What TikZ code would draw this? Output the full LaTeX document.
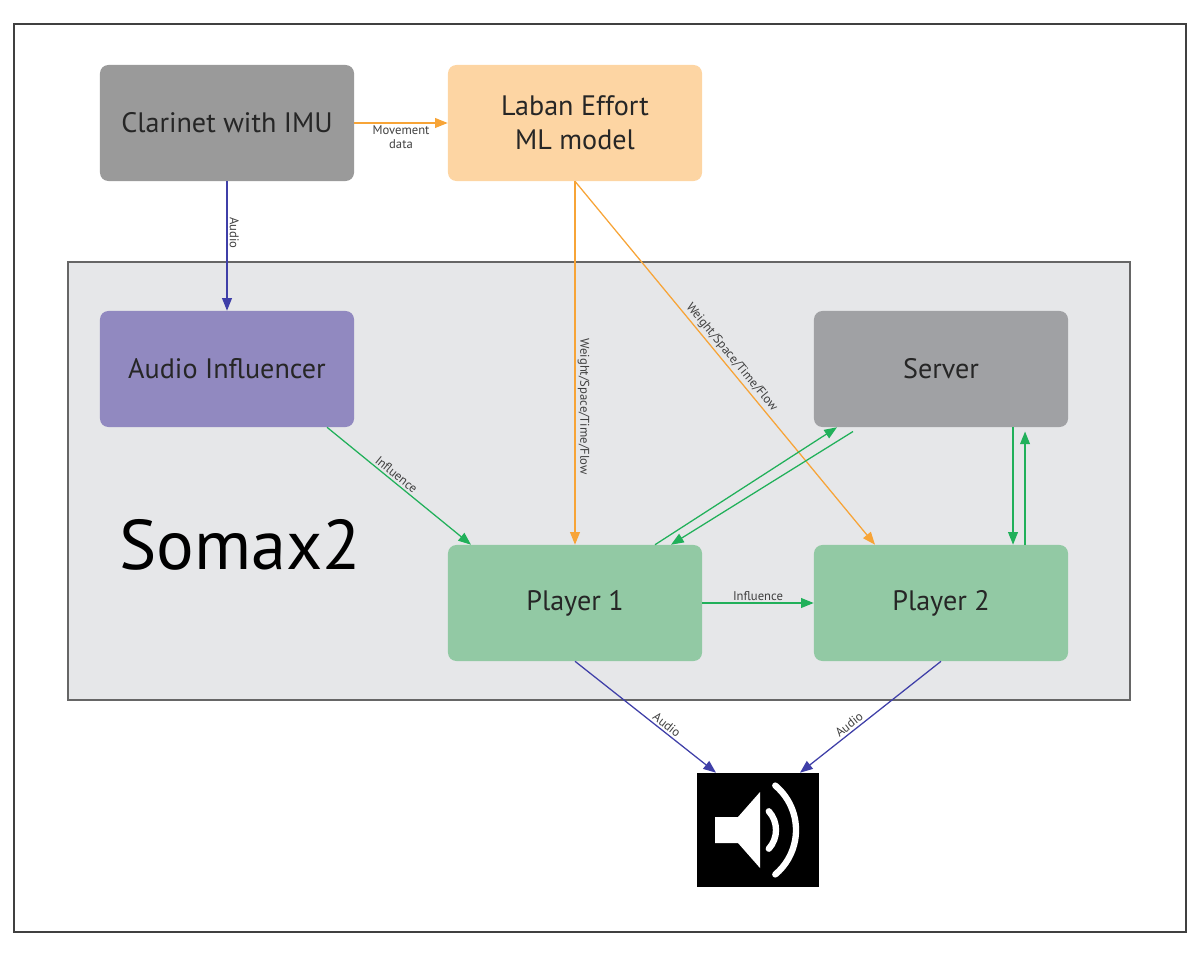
\documentclass[tikz,border=0pt]{standalone}
\usepackage{fontspec}
\setmainfont{PT Sans}
\usetikzlibrary{arrows.meta}
\definecolor{boxgray}{HTML}{9A9A9A}
\definecolor{servgray}{HTML}{A0A1A4}
\definecolor{labanor}{HTML}{FDD5A3}
\definecolor{inflpurp}{HTML}{9189C0}
\definecolor{playgreen}{HTML}{92C9A4}
\definecolor{somaxbg}{HTML}{E6E7E9}
\definecolor{arrorange}{HTML}{F7A437}
\definecolor{arrblue}{HTML}{3F3FA8}
\definecolor{arrgreen}{HTML}{21B05A}
\tikzset{
  block/.style={rounded corners=6pt, minimum width=6.35cm, minimum height=2.9cm,
    align=center, font=\fontsize{20}{24}\selectfont, text=black!85},
  link/.style={-{Triangle[length=9pt,width=7pt]}, line width=0.9pt},
  tag/.style={font=\fontsize{9}{10}\selectfont, text=black!75, inner sep=1.5pt}
}
\begin{document}
\begin{tikzpicture}[x=0.025cm,y=-0.025cm]
		\useasboundingbox (0,0) rectangle (1200,958);
		\draw[line width=1.3pt, black!75] (14,24) rectangle (1186,932);
		\draw[line width=1.3pt, black!60, fill=somaxbg] (68,262) rectangle (1130,700);
		
		\node[block, fill=boxgray] at (227,123) (clar) {Clarinet with IMU};
		\node[block, fill=labanor] at (575,123) (laban) {Laban Effort\\ML model};
		\node[block, fill=inflpurp] at (227,369) (infl) {Audio Influencer};
		\node[block, fill=servgray] at (941,369) (serv) {Server};
		\node[block, fill=playgreen] at (575,603) (p1) {Player 1};
		\node[block, fill=playgreen] at (941,603) (p2) {Player 2};
		\node[fill=black, minimum width=3.07cm, minimum height=2.85cm] at (758,830) (spk) {};
		\node[font=\fontsize{50}{56}\selectfont] at (240,545) (somax) {Somax2};
		
		% speaker icon
		\begin{scope}[shift={(spk.center)}, x=0.025cm, y=0.025cm]
		  \fill[white] (-43,-13) -- (-20,-13) -- (2,-38) -- (2,38) -- (-20,13) -- (-43,13) -- cycle;
		  \draw[white, line width=4.5pt, line cap=round] (-10,0) ++(42:28) arc[start angle=42, end angle=-42, radius=28];
		  \draw[white, line width=4.5pt, line cap=round] (-20,0) ++(50:58) arc[start angle=50, end angle=-50, radius=58];
		\end{scope}
		
		\draw[link, arrorange] (clar) -- (laban)
		  node[midway, below, tag, align=center] {Movement\\data};
		\draw[link, arrblue] (clar) -- (infl)
		  node[pos=0.4, sloped, above, tag] {Audio};
		\draw[link, arrorange] (laban.south) -- (p1.north)
		  node[pos=0.62, sloped, above, tag] {Weight/Space/Time/Flow};
		\draw[link, arrorange] (laban.south) -- ([xshift=-1.65cm]p2.north)
		  node[pos=0.5, sloped, above, tag] {Weight/Space/Time/Flow};
		\draw[link, arrgreen] ([xshift=2.5cm]infl.south) -- ([xshift=-2.6cm]p1.north)
		  node[pos=0.45, sloped, above, tag] {Influence};
		\draw[link, arrgreen] ([xshift=2cm]p1.north) -- ([xshift=-2.6cm]serv.south);
		\draw[link, arrgreen] ([xshift=-2.2cm,yshift=-3pt]serv.south) -- ([xshift=2.4cm]p1.north);
		\draw[link, arrgreen] ([xshift=1.8cm]serv.south) -- ([xshift=1.8cm]p2.north);
		\draw[link, arrgreen] ([xshift=2.1cm]p2.north) -- ([xshift=2.1cm,yshift=-3pt]serv.south);
		\draw[link, arrgreen] (p1) -- (p2)
		  node[midway, above, tag] {Influence};
		\draw[link, arrblue] (p1.south) -- ([xshift=-1.05cm]spk.north)
		  node[pos=0.62, sloped, above, tag] {Audio};
		\draw[link, arrblue] (p2.south) -- ([xshift=1.05cm]spk.north)
		  node[pos=0.62, sloped, above, tag] {Audio};
	\end{tikzpicture}
\end{document}
